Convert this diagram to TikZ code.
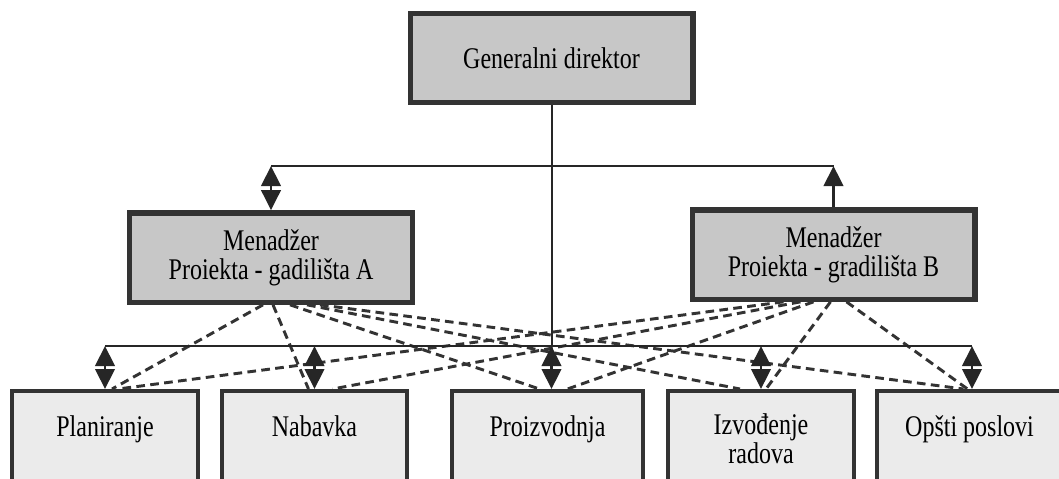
\documentclass[tikz,border=0pt]{standalone}
\usepackage{graphicx}
\usepackage{fontspec}
\setmainfont{Liberation Serif}
\usetikzlibrary{arrows.meta,calc}

% printed letters are taller than wide in the scan
\newcommand{\tallrow}[1]{\scalebox{1}[1.25]{#1}}

\tikzset{
  headbox/.style={draw=black!80, line width=4pt, fill=black!22,
    minimum width=212pt, minimum height=67pt, align=center,
    font=\fontsize{18}{21.5}\selectfont},
  unitbox/.style={draw=black!80, line width=3pt, fill=black!8,
    minimum width=139pt, minimum height=110pt, anchor=north},
  unittext/.style={anchor=north, inner sep=0pt, align=center,
    font=\fontsize{18}{22}\selectfont},
  solid line/.style={draw=black!85, line width=2.2pt},
  twoway/.style={solid line, {Triangle[length=15pt,width=14.5pt]}-{Triangle[length=15pt,width=14.5pt]}},
  oneway/.style={solid line, -{Triangle[length=15pt,width=14.5pt]}},
  link/.style={draw=black!80, line width=2.2pt, dash pattern=on 6.5pt off 4pt}
}

\begin{document}
\begin{tikzpicture}[x=0.75pt,y=0.75pt,yscale=-1,xscale=1]
        \useasboundingbox (0,0) rectangle (1059,478);
        \clip (0,0) rectangle (1059,478);

        % Boxes
        \node [headbox] (gd) at (551.5,58) {\tallrow{Generalni direktor}};
        \node [headbox] (mA) at (271,257.5) {\tallrow{Menadžer}\\\tallrow{Proiekta - gadilišta A}};
        \node [headbox] (mB) at (833.5,254.5) {\tallrow{Menadžer}\\\tallrow{Proiekta - gradilišta B}};

        \node [unitbox] (plan) at (105,389) {};
        \node [unitbox] (nab) at (314.5,389) {};
        \node [unitbox, minimum width=143pt] (proiz) at (547.5,389) {};
        \node [unitbox] (izv) at (761,389) {};
        \node [unitbox] (opsti) at (969.5,389) {};

        % Text Node
        \node [unittext] (tplan) at ($(plan.north)+(0,26)$) {\tallrow{Planiranje}};
        \node [unittext] (tnab) at ($(nab.north)+(0,26)$) {\tallrow{Nabavka}};
        \node [unittext] (tproiz) at ($(proiz.north)+(0,26)$) {\tallrow{Proizvodnja}};
        \node [unittext] (tizv) at ($(izv.north)+(0,24)$) {\tallrow{Izvođenje}\\\tallrow{radova}};
        \node [unittext] (topsti) at ($(opsti.north)+(0,26)$) {\tallrow{Opšti poslovi}};

        % Junction points
        \coordinate (upA) at (271,166);
        \coordinate (upB) at (833.5,166);
        \coordinate (loL) at (105,346);
        \coordinate (loR) at (972,346);

        %Dashed Lines from manager A
        \draw [link] ($(mA.south)+(-8,0)$) -- ($(plan.north)+(7,0)$);
        \draw [link] ($(mA.south)+(2,0)$) -- ($(nab.north)+(-6,0)$);
        \draw [link] ($(mA.south)+(19,0)$) -- ($(proiz.north)+(-8,0)$);
        \draw [link] ($(mA.south)+(36,0)$) -- ($(izv.north)+(-21,0)$);
        \draw [link] ($(mA.south)+(49,0)$) -- ($(opsti.north)+(-6,0)$);
        %Dashed Lines from manager B
        \draw [link] ($(mB.south)+(-50,0)$) -- ($(plan.north)+(13,0)$);
        \draw [link] ($(mB.south)+(-33,0)$) -- ($(nab.north)+(18,0)$);
        \draw [link] ($(mB.south)+(-20,0)$) -- ($(proiz.north)+(20,0)$);
        \draw [link] ($(mB.south)+(-3,0)$) -- ($(izv.north)+(5,0)$);
        \draw [link] ($(mB.south)+(13,0)$) -- ($(opsti.north)+(-2,0)$);

        %Straight Lines
        \draw [solid line] (upA) -- (upB);
        \draw [twoway] (upA) -- (mA.north);
        \draw [oneway] (mB.north) -- (upB);
        \draw [solid line, line width=1.5pt] (gd.south) -- (gd.south |- loL);
        \draw [solid line] (loL) -- (loR);
        \draw [twoway] (loL) -- (plan.north);
        \draw [twoway] (nab.north |- loL) -- (nab.north);
        \draw [twoway] (gd.south |- loL) -- (gd.south |- proiz.north);
        \draw [twoway] (izv.north |- loL) -- (izv.north);
        \draw [twoway] (loR) -- (loR |- opsti.north);

\end{tikzpicture}
\end{document}
